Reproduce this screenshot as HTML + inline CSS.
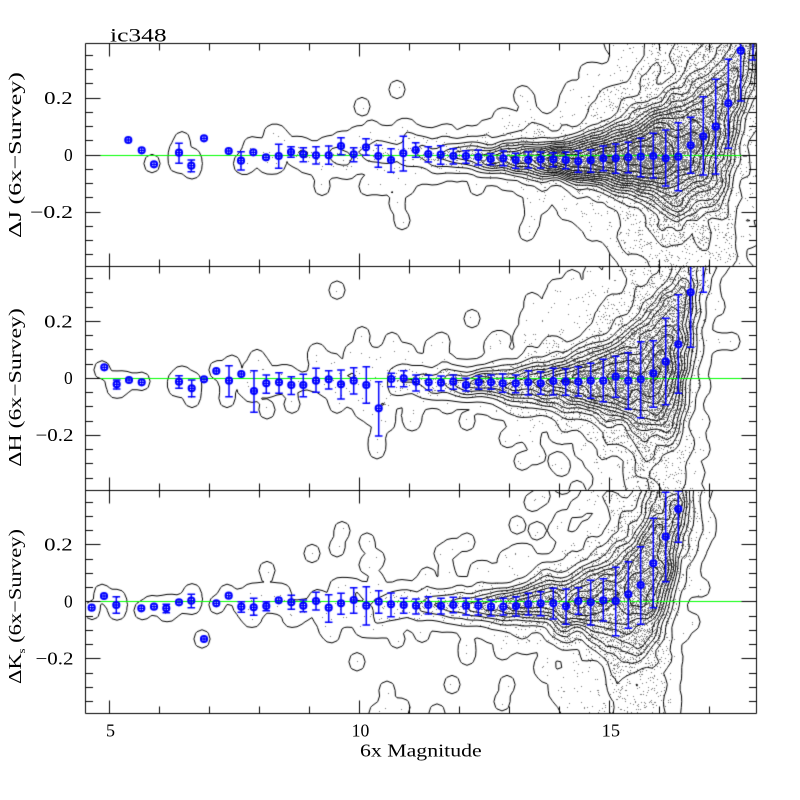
<!DOCTYPE html>
<html><head><meta charset="utf-8">
<style>
html,body{margin:0;padding:0;background:#fff;}
#wrap{position:relative;width:800px;height:800px;overflow:hidden;background:#fff;}
canvas,svg{position:absolute;left:0;top:0;}
text{font-family:"Liberation Serif","DejaVu Serif",serif;font-size:17.5px;fill:#000;}
</style></head><body>
<div id="wrap">
<canvas id="c" width="800" height="800"></canvas>
<svg width="800" height="800" viewBox="0 0 800 800">
  <text x="110" y="41.7" textLength="56.7" lengthAdjust="spacingAndGlyphs" style="font-size:19px">ic348</text>

  <text x="44.2" y="104.1" textLength="28.5" lengthAdjust="spacingAndGlyphs">0.2</text>
  <text x="64" y="160.8" textLength="8.7" lengthAdjust="spacingAndGlyphs">0</text>
  <text x="30" y="217.8" textLength="43" lengthAdjust="spacingAndGlyphs">−0.2</text>

  <text x="44.2" y="327.3" textLength="28.5" lengthAdjust="spacingAndGlyphs">0.2</text>
  <text x="64" y="384.2" textLength="8.7" lengthAdjust="spacingAndGlyphs">0</text>
  <text x="35.5" y="441.2" textLength="38" lengthAdjust="spacingAndGlyphs">−0.2</text>

  <text x="44.2" y="550.7" textLength="28.5" lengthAdjust="spacingAndGlyphs">0.2</text>
  <text x="64" y="607.6" textLength="8.7" lengthAdjust="spacingAndGlyphs">0</text>
  <text x="35.5" y="664.6" textLength="38" lengthAdjust="spacingAndGlyphs">−0.2</text>

  <text x="106" y="736.7" textLength="9" lengthAdjust="spacingAndGlyphs">5</text>
  <text x="351.7" y="736.7" textLength="17.6" lengthAdjust="spacingAndGlyphs">10</text>
  <text x="601.7" y="736.7" textLength="18.3" lengthAdjust="spacingAndGlyphs">15</text>
  <text x="360" y="756.7" textLength="121.7" lengthAdjust="spacingAndGlyphs">6x Magnitude</text>

  <text transform="translate(21,238) rotate(-90)" textLength="166" lengthAdjust="spacingAndGlyphs" style="font-size:18px">ΔJ (6x−Survey)</text>
  <text transform="translate(21,466.7) rotate(-90)" textLength="158.5" lengthAdjust="spacingAndGlyphs" style="font-size:18px">ΔH (6x−Survey)</text>
  <text transform="translate(21,684) rotate(-90)" textLength="155" lengthAdjust="spacingAndGlyphs" style="font-size:18px">ΔK<tspan style="font-size:10px" dy="4">s</tspan><tspan dy="-4"> (6x−Survey)</tspan></text>
</svg>
</div>
<script>
(function(){
const cv=document.getElementById('c');const ctx=cv.getContext('2d');
const L=85.3,R=756.7,T=43.3,PH=223.45;
const X=m=>109.5+(m-5)*50, Mx=x=>5+(x-109.5)/50;
const pc=p=>T+p*PH+PH/2, Y=(p,v)=>pc(p)-v*285;

let seed=20240611;
function rnd(){seed|=0;seed=seed+0x6D2B79F5|0;let t=Math.imul(seed^seed>>>15,1|seed);t=t+Math.imul(t^t>>>7,61|t)^t;return((t^t>>>14)>>>0)/4294967296;}
function gauss(){let u=rnd()||1e-9,v=rnd();return Math.sqrt(-2*Math.log(u))*Math.cos(2*Math.PI*v);}

const P1=[
[128.3,140],[141.7,150.3],[154,164.3],[179,152.7,143.3,163.3],[191.3,165.7,160,171.7],[204,138.3],[228.7,151],[241,160.7,151.7,170],[253.3,152.3],
[266,157.3],[278.7,156,144.3,168.3],[291,152,146.7,157.3],[303.3,154.3,147.7,161.7],[316,155.3,146.7,164],[328.7,155.3,146,164.3],[341,146,137.7,154.7],[353.7,154.3,147.7,161.7],[366,147.3,138.7,155.3],[378.3,156,145.3,167.3],[391,160,148.7,172.3],[403.3,153.3,136.3,171],[415.7,150,142.7,157.3],[428.3,154,146.7,162],[440.7,154.7,145.7,164.3],[453.3,156,148.7,164],[466,156,150.7,163.3],[478.3,157,150,165],[490.7,159,153.7,164.7],[503.3,158.3,151,165.7],[515.7,160,153.3,168.3],[528.3,159.7,152,168],[540.7,159.3,152,168],
[553.3,159.3,152.7,166.7],[565.7,160,152.3,168.7],[578.3,161.3,150.7,172.3],[590.7,160.3,149.7,172.3],[603.3,158.3,146,170.7],[615.7,158.3,144,173.3],[628.3,157.3,142.3,172.7],[640.7,156.7,138.3,176.7],[653.3,156,133.3,178],[665.7,158.3,130,186],[678.3,156.7,122.7,190.7],[690.7,145.3,117.3,173.3],[703.3,136.3,96.7,175],[715.7,126.7,79.3,174],[728.3,103.3,59.3,148.3],[740.7,50.7,30,101]
];
const P1extra=[[753,20,20,60]];
const P2=[
[104.3,367.3],[116.7,384.3,380,389],[129,380],[141.7,382.3],[179,381.7,375.7,388.3],[191.7,388.3,380,396.7],[204,379.3],[216.3,371],[229,380.7,365.7,396.7],[241.3,374],[254,391,370.7,412.3],[266.3,383.3,375,393.3],[279,382.3,372.7,393.3],[291.3,385,376.7,394.5],
[303.3,385,374.3,396.7],[316,380.7,368.3,392.3],[328.7,379.3,370.7,389],[341,384.3,370,399],[353.7,380.7,367.7,394],[366.3,385,366.7,403.3],[378.7,408.3,381.7,436],[391.3,379,373.3,386.7],[403.7,378.3,370.7,386.7],[416,381.7,375,391],[428.7,382.3,375.3,390],[441,382.7,376,390.7],[453.3,381.7,375,389.3],[466,385,378.3,391],[478.7,382.3,376,389.3],[491,382.3,375,389.3],
[502.7,383.3,374,392.3],[515.7,383.3,375,392.7],[528.3,382.3,370.7,395],[540.7,383.3,371.7,394.3],[553.3,381,368.3,395],[565.7,381.7,368.7,395.3],[578.3,381.7,366.7,396],[590.7,380.7,363.3,398.3],[603.3,380.7,359.3,401.7],[615.7,376.7,356.3,397.3],[628.3,380.7,352.7,409.3],[640.7,379.3,341.7,417.7],[653.3,373.3,340.7,407.3],[665.7,361.7,318.3,404.7],[678.3,344.3,294.7,393.3],[690.7,292.3,250,347.3],[703.3,240,200,292.3]
];
const P3=[
[91.7,607.7],[104,596],[116.3,605,596.7,613.3],[141.3,608.3],[154,606.7],[166.3,608.3,604.3,612.7],[179,602.3],[191.3,600.7,594.3,607.7],[204,639],[216.3,603.3],[228.7,595.7],[241.3,606.7,601.7,612.3],[253.7,607.3,598.3,615.3],[266.3,606,601.7,610.7],[278.7,600.3],[291.3,602.3,595.3,609.3],
[303.3,605.7,600,611.7],[316,601,592.3,610],[328.7,607.7,594.7,622.3],[341,603.3,593.3,614.3],[353.7,600,587.7,613.3],[366.3,605.7,586.7,625],[378.7,601.7,590.7,613.3],[391,604.3,593,616.7],[403.7,605,598.3,613.3],[416,605.7,599,614],[428.3,605,596.7,614],[441,606,598.3,614],[453.3,605,597.3,612.7],[466,605.7,598.3,615],[478.3,605.7,599,615],[491,606.7,600,616],
[503.3,606.7,598.3,615],[516,606,596.7,616],[528.3,604,593.3,615],[540.7,603.3,591.7,615.7],[553.3,603.3,588.3,619],[566,606.3,589,624.3],[578.3,601,587.7,614.3],[590.7,602.3,580.3,625],[603.3,600.3,578.7,621],[615.7,601,567.3,635.7],[628.3,594.3,561.7,628.3],[640.7,585,546.7,624.3],[653.3,563.3,518.3,607.7],[665.7,536.7,492.3,581.7],[678.3,509,491,542.3]
];

function model(pts,p){
  const c=pc(p);
  const arr=pts.map(q=>({m:Mx(q[0]),mu:(c-q[1])/285,s:q[2]?Math.max((q[3]-q[2])/2/285,0.01):0.012}));
  arr.sort((a,b)=>a.m-b.m);
  return function(m){
    if(m<=arr[0].m)return arr[0];
    for(let i=0;i<arr.length-1;i++){
      if(m<=arr[i+1].m){const t=(m-arr[i].m)/(arr[i+1].m-arr[i].m);
        return {mu:arr[i].mu+t*(arr[i+1].mu-arr[i].mu),s:arr[i].s+t*(arr[i+1].s-arr[i].s)};}
    }
    return arr[arr.length-1];
  };
}

function gen(p,pts,Nf,skip,nOut,wOff){
  const c=pc(p),f=model(pts,p),S=[];
  for(const q of pts){
    const m=Mx(q[0]); if(m>=7.6)continue;
    if(skip.some(s=>Math.abs(s-q[0])<1))continue;
    const mu=(c-q[1])/285; S.push([m,mu]);
    if(q[2]){const s=(q[3]-q[2])/2/285;S.push([m+0.02,mu+s]);S.push([m-0.02,mu-s]);}
  }
  for(let m=7.6;m<17.95;m+=0.01){
    const n=Nf(m)/10;let k=Math.floor(n);if(rnd()<n-k)k++;
    const st=f(m);
    const fw=Math.min(0.35,Math.max(0.06,0.06+0.06*(m-12)));
    const sw=Math.max(3*st.s,0.07);
    for(let t=0;t<k;t++){
      const mm=m+rnd()*0.01;
      const v=rnd()<fw?st.mu+wOff*sw+sw*gauss():st.mu+st.s*gauss();
      S.push([mm,v]);
    }
  }
  for(let t=0;t<nOut;t++)S.push([9+rnd()*7.5,-0.4+rnd()*0.8]);
  return S;
}

const NX=136,NY=60,m0=4.5,v0=-0.6,dm=0.1,dv=0.02;
function grid(stars){
  let H=new Float32Array(NX*NY);
  for(const s of stars){const i=Math.floor((s[0]-m0)/dm),j=Math.floor((s[1]-v0)/dv);
    if(i>=0&&i<NX&&j>=0&&j<NY)H[i*NY+j]++;}
  const g=(arr,i,j)=>(i<0||i>=NX||j<0||j>=NY)?0:arr[i*NY+j];
  for(let pass=0;pass<2;pass++){
    const A=new Float32Array(NX*NY),B=new Float32Array(NX*NY);
    for(let i=0;i<NX;i++)for(let j=0;j<NY;j++)A[i*NY+j]=(g(H,i-1,j)+2*g(H,i,j)+g(H,i+1,j))/4;
    for(let i=0;i<NX;i++)for(let j=0;j<NY;j++)B[i*NY+j]=(g(A,i,j-1)+2*g(A,i,j)+g(A,i,j+1))/4;
    H=B;
  }
  return H;
}

function contours(S,p,levels){
  ctx.beginPath();
  const seg=(P,Q)=>{ctx.moveTo(P[0],P[1]);ctx.lineTo(Q[0],Q[1]);};
  for(const lev of levels){
    for(let i=0;i<NX-1;i++)for(let j=0;j<NY-1;j++){
      const a=S[i*NY+j],b=S[(i+1)*NY+j],c=S[(i+1)*NY+j+1],d=S[i*NY+j+1];
      const idx=(a>lev?1:0)|(b>lev?2:0)|(c>lev?4:0)|(d>lev?8:0);
      if(idx===0||idx===15)continue;
      const x0=X(m0+(i+0.5)*dm),x1=X(m0+(i+1.5)*dm),y0=Y(p,v0+(j+0.5)*dv),y1=Y(p,v0+(j+1.5)*dv);
      const P0=((a>lev)!==(b>lev))?[x0+(lev-a)/(b-a)*(x1-x0),y0]:null;
      const Pa=((b>lev)!==(c>lev))?[x1,y0+(lev-b)/(c-b)*(y1-y0)]:null;
      const P2=((c>lev)!==(d>lev))?[x1+(lev-c)/(d-c)*(x0-x1),y1]:null;
      const P3=((d>lev)!==(a>lev))?[x0,y1+(lev-d)/(a-d)*(y0-y1)]:null;
      if(idx===5||idx===10){
        const ctr=(a+b+c+d)/4>lev;
        if((idx===5)===ctr){seg(P0,Pa);seg(P2,P3);}else{seg(P0,P3);seg(Pa,P2);}
      }else{
        const q=[P0,Pa,P2,P3].filter(z=>z);if(q.length>=2)seg(q[0],q[1]);
      }
    }
  }
  ctx.stroke();
}

function blue(pts){
  ctx.strokeStyle='#0000ff';
  for(const q of pts){
    const x=q[0],y=q[1],t=q[2],b=q[3];
    if(t){ctx.lineWidth=1.5;ctx.beginPath();
      ctx.moveTo(x,t);ctx.lineTo(x,b);
      ctx.moveTo(x-3.8,t);ctx.lineTo(x+3.8,t);
      ctx.moveTo(x-3.8,b);ctx.lineTo(x+3.8,b);ctx.stroke();}
    ctx.lineWidth=2;ctx.beginPath();ctx.arc(x,y,3.1,0,2*Math.PI);ctx.stroke();
    ctx.lineWidth=1.3;ctx.beginPath();ctx.moveTo(x-3.2,y);ctx.lineTo(x+3.2,y);ctx.moveTo(x,y-3.2);ctx.lineTo(x,y+3.2);ctx.stroke();
  }
}

const levels=[0.05,0.6,1.6,2.6,3.6,4.7,5.9,7.2,8.7,10.4,12.3,14.5,17,20];

const NJ=m=>{let n=m<16.8?Math.min(150*Math.pow(10,0.33*(m-15)),300):300*Math.exp(-Math.pow((m-16.8)/1.0,2));return m<8.5?Math.max(n,1.2):n;};
const NH=m=>{let n=m<16.1?Math.min(150*Math.pow(10,0.33*(m-15)),300):300*Math.exp(-Math.pow((m-16.1)/0.55,2));return m<8.5?Math.max(n,1.2):n;};
const NK=m=>{let n=m<15.9?150*Math.pow(10,0.33*(m-15)):260*Math.exp(-Math.pow((m-15.9)/0.5,2));return m<8.5?Math.max(n,1.2):n;};

const panels=[
  {pts:P1,extra:P1extra,N:NJ,skip:[128.3,141.7,204,228.7],out:8,w:0.1},
  {pts:P2,extra:[],N:NH,skip:[204],out:18,w:0.0},
  {pts:P3,extra:[],N:NK,skip:[],out:50,w:0.0}
];

ctx.fillStyle='#fff';ctx.fillRect(0,0,800,800);
panels.forEach((P,p)=>{
  const stars=gen(p,P.pts,P.N,P.skip,P.out,P.w);
  const top=T+p*PH;
  ctx.save();
  ctx.beginPath();ctx.rect(L,top,R-L,PH);ctx.clip();
  ctx.fillStyle='#7a7a7a';
  for(const s of stars){
    const x=Math.round(X(s[0])),y=Math.round(Y(p,s[1]));ctx.fillRect(x,y,1,1);
    if(s[0]>12.5&&rnd()<0.7){
      const x2=Math.round(X(s[0]+(rnd()-0.5)*0.12)),y2=Math.round(Y(p,s[1]+gauss()*0.012));
      ctx.fillRect(x2,y2,1,1);
    }
  }
  const S=grid(stars);
  ctx.strokeStyle='#000';ctx.lineWidth=1;
  contours(S,p,levels);
  ctx.strokeStyle='#00ff00';ctx.lineWidth=1;ctx.beginPath();
  const gy=Math.round(pc(p)-0.5)+0.5;ctx.moveTo(L,gy);ctx.lineTo(R,gy);ctx.stroke();
  blue(P.pts);blue(P.extra);
  ctx.restore();
});

const r5=v=>Math.round(v-0.5)+0.5;
ctx.strokeStyle='#000';ctx.lineWidth=1;ctx.beginPath();
for(let p=0;p<3;p++){
  const top=r5(T+p*PH),bot=r5(T+(p+1)*PH),l=r5(L),r=r5(R);
  ctx.moveTo(l,top);ctx.lineTo(r,top);ctx.lineTo(r,bot);ctx.lineTo(l,bot);ctx.lineTo(l,top);
  for(let k=-7;k<=7;k++){
    const y=r5(Y(p,k*0.05));const len=(k%4===0)?15:7.5;
    ctx.moveTo(l,y);ctx.lineTo(l+len,y);ctx.moveTo(r,y);ctx.lineTo(r-len,y);
  }
  for(let m=5;m<=17;m++){
    const x=r5(X(m));const len=(m%5===0)?13:7;
    ctx.moveTo(x,top);ctx.lineTo(x,top+len);ctx.moveTo(x,bot);ctx.lineTo(x,bot-len);
  }
}
ctx.stroke();
})();
</script>
</body></html>
